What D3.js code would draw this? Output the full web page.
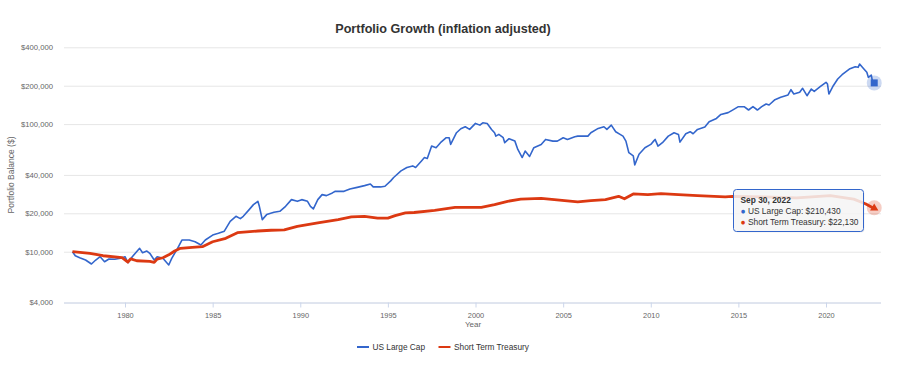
<!DOCTYPE html>
<html>
<head>
<meta charset="utf-8">
<script src="https://cdn.jsdelivr.net/npm/d3@7/dist/d3.min.js"></script>
<style>
body { margin: 0; background: #ffffff; }
text { font-family: "Liberation Sans", Arial, sans-serif; }
</style>
</head>
<body>
<script>
//Data
const SeriesNames = ["US Large Cap", "Short Term Treasury"]
const LargeCapDates = [
  "1977-01","1977-03","1977-06","1977-10","1978-02","1978-05","1978-08","1978-11","1979-02","1979-06",
  "1979-10","1980-01","1980-03","1980-06","1980-11","1981-01","1981-04","1981-06","1981-09","1981-11",
  "1982-03","1982-07","1982-09","1983-01","1983-04","1983-09","1984-01","1984-05","1984-08","1985-01",
  "1985-05","1985-09","1986-01","1986-05","1986-08","1986-10","1987-02","1987-05","1987-08","1987-09",
  "1987-11","1988-02","1988-07","1988-11","1989-03","1989-07","1989-11","1990-02","1990-06","1990-08",
  "1990-10","1991-01","1991-04","1991-07","1991-11","1992-01","1992-07","1992-11","1993-04","1993-09",
  "1994-01","1994-03","1994-08","1994-11","1995-03","1995-05","1995-10","1996-02","1996-06","1996-08",
  "1996-12","1997-02","1997-04","1997-07","1997-10","1998-01","1998-05","1998-07","1998-08","1998-12",
  "1999-03","1999-06","1999-09","2000-01","2000-04","2000-06","2000-09","2000-12","2001-02","2001-03",
  "2001-05","2001-08","2001-09","2001-12","2002-04","2002-06","2002-09","2002-11","2003-02","2003-05",
  "2003-10","2004-01","2004-06","2004-09","2005-01","2005-04","2005-09","2005-11","2006-06","2006-08",
  "2007-01","2007-05","2007-07","2007-10","2008-01","2008-04","2008-06","2008-08","2008-10","2009-01",
  "2009-02","2009-05","2009-09","2010-01","2010-03","2010-04","2010-06","2010-09","2011-01","2011-05",
  "2011-08","2011-09","2012-01","2012-04","2012-06","2012-09","2013-02","2013-05","2013-10","2014-01",
  "2014-06","2014-09","2015-01","2015-05","2015-08","2015-11","2016-02","2016-05","2016-08","2016-10",
  "2017-02","2017-06","2017-11","2018-01","2018-03","2018-07","2018-09","2018-12","2019-03","2019-05",
  "2019-09","2020-01","2020-02","2020-03","2020-06","2020-09","2020-12","2021-02","2021-05","2021-09",
  "2021-11","2021-12","2022-03","2022-05","2022-06","2022-08","2022-09"
]
const LargeCapValues = [
  10000,9300,8970,8610,8010,8610,9140,8350,8770,8720,
  8880,9140,8200,9140,10630,9820,10130,9720,8610,9140,
  8880,7870,8880,10630,12350,12350,11970,11280,12350,13510,
  13930,14500,17320,18950,18180,18950,21380,23390,24830,22690,
  17840,19540,20360,20730,22690,25600,24830,25600,24830,22690,
  21650,25600,28020,27530,28900,29740,29740,31050,31950,32960,
  33980,32200,32200,32600,35900,38160,42990,45720,47050,45720,
  51490,54740,53760,67250,65350,71500,78260,78260,69330,85610,
  92050,95420,90870,101270,98200,102500,101270,90870,85610,80550,
  83100,78260,71500,76860,73600,63380,54740,61460,55730,65350,
  69330,75880,73600,73600,78260,75880,79700,80550,80550,85610,
  92550,95420,90870,98200,87200,83100,80550,73600,59700,56370,
  47900,58080,65350,69330,73600,75880,67250,71500,80550,85610,
  83100,72300,84100,87200,84100,90870,94750,104400,110800,119100,
  123000,128700,137000,137000,129000,137000,129000,137000,143800,141200,
  155400,162300,169200,186100,172200,177600,190800,167000,188400,180800,
  196400,212600,206100,172200,200000,225600,243800,254600,270200,281800,
  278700,295800,270200,254600,232600,242600,210430
]
const TreasuryDates = [
  "1977-01","1978-01","1978-10","1979-11","1980-03","1980-05","1980-09","1981-06","1981-09","1981-11",
  "1982-03","1982-07","1982-11","1983-03","1983-11","1984-06","1985-01","1985-10","1986-06","1987-08",
  "1988-05","1989-02","1989-11","1991-01","1992-03","1992-12","1993-09","1994-06","1995-01","1995-06",
  "1996-01","1996-07","1997-09","1998-11","2000-05","2001-02","2001-11","2002-08","2003-10","2004-07",
  "2005-02","2005-11","2006-08","2007-06","2008-03","2008-07","2009-01","2009-11","2010-08","2011-08",
  "2012-09","2014-04","2014-09","2016-06","2018-05","2020-04","2021-08","2022-04","2022-09"
]
const TreasuryValues = [
  10000,9720,9300,9000,8300,8800,8500,8400,8250,8750,
  8970,9450,10130,10630,10830,10950,11970,12740,14100,14540,
  14730,14810,15820,16830,17840,18740,18950,18360,18360,19190,
  20140,20300,21100,22230,22230,23370,24830,25850,26140,25600,
  25100,24560,25100,25600,27180,25980,28380,28020,28540,28020,
  27530,26900,27180,26900,26420,27530,25850,23790,22130
]
const YTicks = [4000, 10000, 20000, 40000, 100000, 200000, 400000]
const XTickYears = [1980, 1985, 1990, 1995, 2000, 2005, 2010, 2015, 2020]
const TooltipTitle = "Sep 30, 2022"

//Layout
const Width = 900
const Height = 366
const PlotLeft = 64
const PlotRight = 881
const PlotTop = 47.3
const PlotBottom = 302.5
const BlueColor = "#3366cc"
const RedColor = "#dc3912"

const parseMonth = d3.utcParse("%Y-%m")
const money = d3.format("$,")

const svg = d3.select("body").append("svg")
    .attr("width", Width)
    .attr("height", Height)
    .attr("xmlns", "http://www.w3.org/2000/svg")

const x = d3.scaleUtc()
    .domain([Date.UTC(1980, 0, 1), Date.UTC(2020, 0, 1)])
    .range([125, 826])

const y = d3.scaleLog()
    .domain([4000, 400000])
    .range([PlotBottom, PlotTop])

//Title
svg.append("text")
    .attr("x", 443)
    .attr("y", 33)
    .attr("text-anchor", "middle")
    .attr("font-size", "12.6px")
    .attr("font-weight", "bold")
    .attr("fill", "#333333")
    .text("Portfolio Growth (inflation adjusted)")

//Grid + y axis
const yAxis = svg.append("g")
    .attr("transform", "translate(" + PlotLeft + ",0)")
    .call(d3.axisLeft(y).tickValues(YTicks).tickFormat(money).tickSize(-(PlotRight - PlotLeft)).tickPadding(11))
yAxis.select(".domain").remove()
yAxis.selectAll(".tick line").attr("stroke", "#e6e6e6")
yAxis.selectAll(".tick text")
    .attr("fill", "#666666")
    .attr("font-size", "7.7px")
    .attr("font-family", "Liberation Sans, Arial, sans-serif")

svg.append("text")
    .attr("transform", "translate(14," + 175 + ") rotate(-90)")
    .attr("text-anchor", "middle")
    .attr("font-size", "8.5px")
    .attr("fill", "#666666")
    .text("Portfolio Balance ($)")

//x axis
const xAxis = svg.append("g")
    .attr("transform", "translate(0," + PlotBottom + ")")
    .call(d3.axisBottom(x)
        .tickValues(XTickYears.map(yr => new Date(Date.UTC(yr, 0, 1))))
        .tickFormat(d3.utcFormat("%Y"))
        .tickSize(5)
        .tickSizeOuter(0)
        .tickPadding(5))
xAxis.select(".domain").attr("d", "M" + PlotLeft + ",0.5H" + PlotRight).attr("stroke", "#ccd6eb")
xAxis.selectAll(".tick line").attr("stroke", "#ccd6eb")
xAxis.selectAll(".tick text")
    .attr("fill", "#666666")
    .attr("font-size", "7.4px")
    .attr("font-family", "Liberation Sans, Arial, sans-serif")

svg.append("text")
    .attr("x", 473)
    .attr("y", 327)
    .attr("text-anchor", "middle")
    .attr("font-size", "8px")
    .attr("fill", "#666666")
    .text("Year")

//Lines
const LargeCap = LargeCapDates.map((d, i) => ({date: parseMonth(d), value: LargeCapValues[i]}))
const Treasury = TreasuryDates.map((d, i) => ({date: parseMonth(d), value: TreasuryValues[i]}))

const line = d3.line()
    .x(d => x(d.date))
    .y(d => y(d.value))

svg.append("path")
    .datum(LargeCap)
    .attr("d", line)
    .attr("fill", "none")
    .attr("stroke", BlueColor)
    .attr("stroke-width", 1.6)
    .attr("stroke-linejoin", "round")

svg.append("path")
    .datum(Treasury)
    .attr("d", line)
    .attr("fill", "none")
    .attr("stroke", RedColor)
    .attr("stroke-width", 2.8)
    .attr("stroke-linejoin", "round")

//Hover markers
const lastBlue = LargeCap[LargeCap.length - 1]
const lastRed = Treasury[Treasury.length - 1]
const bx = x(lastBlue.date) + 1.5
const by = y(lastBlue.value)
const rx = x(lastRed.date) + 1.5
const ry = y(lastRed.value)

svg.append("circle").attr("cx", bx).attr("cy", by).attr("r", 7.5)
    .attr("fill", BlueColor).attr("fill-opacity", 0.25)
svg.append("rect").attr("x", bx - 3.5).attr("y", by - 3.5).attr("width", 7).attr("height", 7)
    .attr("fill", BlueColor)
svg.append("circle").attr("cx", rx).attr("cy", ry).attr("r", 7.5)
    .attr("fill", RedColor).attr("fill-opacity", 0.25)
svg.append("path")
    .attr("d", d3.symbol(d3.symbolTriangle, 30)())
    .attr("transform", "translate(" + rx + "," + (ry + 0.5) + ")")
    .attr("fill", RedColor)

//Tooltip
const tip = svg.append("g").attr("transform", "translate(733.5,189.5)")
tip.append("rect")
    .attr("x", 1).attr("y", 1).attr("width", 130).attr("height", 42).attr("rx", 3)
    .attr("fill", "#000000").attr("fill-opacity", 0.06)
tip.append("rect")
    .attr("width", 130).attr("height", 42).attr("rx", 3)
    .attr("fill", "#f7f7f7").attr("fill-opacity", 0.85)
    .attr("stroke", BlueColor).attr("stroke-width", 1)
tip.append("text")
    .attr("x", 7).attr("y", 13.5)
    .attr("font-size", "8.4px")
    .attr("font-weight", "bold")
    .attr("fill", "#333333")
    .text(TooltipTitle)
const tipRows = [
    {name: SeriesNames[0], value: lastBlue.value, color: BlueColor},
    {name: SeriesNames[1], value: lastRed.value, color: RedColor}
]
tipRows.forEach((r, i) => {
    const t = tip.append("text")
        .attr("x", 7).attr("y", 24 + i * 11)
        .attr("font-size", "8.4px")
        .attr("fill", "#333333")
    t.append("tspan").attr("fill", r.color).text("\u25CF ")
    t.append("tspan").text(r.name + ": " + money(r.value))
})

//Legend
const legend = svg.append("g")
const legendItems = [
    {name: SeriesNames[0], color: BlueColor, x: 357},
    {name: SeriesNames[1], color: RedColor, x: 438.5}
]
legendItems.forEach(it => {
    legend.append("line")
        .attr("x1", it.x).attr("x2", it.x + 12)
        .attr("y1", 347).attr("y2", 347)
        .attr("stroke", it.color).attr("stroke-width", 2)
    legend.append("text")
        .attr("x", it.x + 15.5).attr("y", 350)
        .attr("font-size", "8.3px")
        .attr("fill", "#333333")
        .text(it.name)
})
</script>
</body>
</html>
